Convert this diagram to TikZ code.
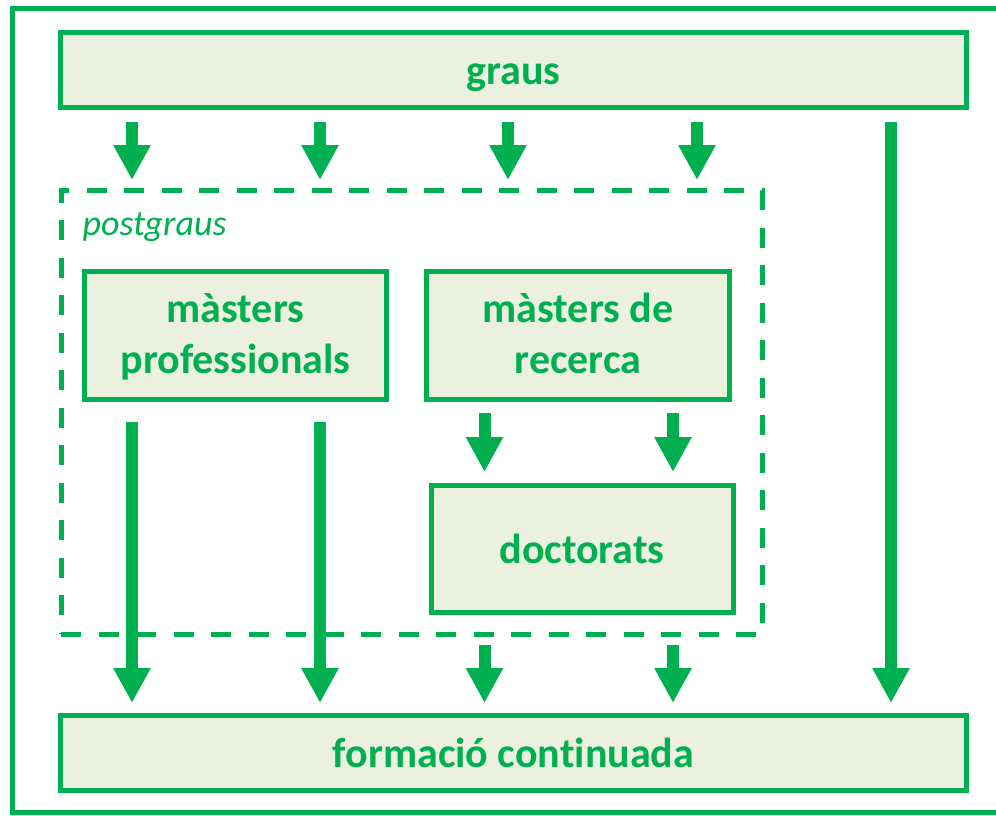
\documentclass[tikz,border=0pt]{standalone}
\usepackage{fontspec}
\setmainfont{Carlito}[Ligatures=CommonOff]
\usetikzlibrary{arrows.meta}
\definecolor{ogreen}{HTML}{00B050}
\definecolor{ofill}{HTML}{EBF1DE}
\tikzset{
  boxnode/.style={draw=ogreen, fill=ofill, line width=5pt, rectangle, inner sep=0pt,
    text=ogreen, font=\fontsize{42}{51}\selectfont\bfseries, align=center},
  oneline/.style={text height=29pt, text depth=0pt},
  twoline/.style={text depth=4pt},
  dashbox/.style={draw=ogreen, line width=5pt, rectangle, inner sep=0pt,
    dash pattern=on 20pt off 17.5pt},
  arr/.style={draw=ogreen, line width=12pt,
    -{Triangle[width=35pt,length=35pt]}, fill=ogreen}
}
\begin{document}
\begin{tikzpicture}[x=1pt,y=-1pt]
\useasboundingbox (0,0) rectangle (996,815);
\clip (0,0) rectangle (996,815);
% outer frame (open to the right)
\draw[ogreen, line width=5pt] (1010,8.5) -- (12.5,8.5) -- (12.5,812.5) -- (1010,812.5);
% nodes
\node[boxnode, oneline, minimum width=906pt, minimum height=75pt] (graus) at (513.5,70) {graus};
\node[dashbox, minimum width=701pt, minimum height=443.5pt] (post) at (411.5,412.25) {};
\node[anchor=base west, text=ogreen, font=\fontsize{36}{43}\selectfont\itshape] (postlbl) at (79,235) {postgraus};
\node[boxnode, twoline, minimum width=302pt, minimum height=128pt] (mprof) at (235.5,335.5) {màsters\\professionals};
\node[boxnode, twoline, minimum width=303pt, minimum height=128pt] (mrec) at (578,335.5) {màsters de\\recerca};
\node[boxnode, oneline, minimum width=302pt, minimum height=127pt] (doct) at (582,548.5) {doctorats};
\node[boxnode, oneline, minimum width=906pt, minimum height=75.5pt] (form) at (513.5,752.75) {formació continuada};
% x positions of the arrows
\coordinate (c1) at (132,0);
\coordinate (c2) at (320,0);
\coordinate (c3) at (508,0);
\coordinate (c4) at (697,0);
\coordinate (c5) at (891,0);
\coordinate (d1) at (484.5,0);
\coordinate (d2) at (673,0);
% graus -> postgraus
\foreach \c in {c1,c2,c3,c4}
  \draw[arr, shorten <=12pt, shorten >=8pt] (graus.south -| \c) -- (post.north -| \c);
% graus -> formacio
\draw[arr, shorten <=12pt, shorten >=9.5pt] (graus.south -| c5) -- (form.north -| c5);
% masters professionals -> formacio
\foreach \c in {c1,c2}
  \draw[arr, shorten <=20pt, shorten >=9.5pt] (mprof.south -| \c) -- (form.north -| \c);
% masters de recerca -> doctorats
\foreach \c in {d1,d2}
  \draw[arr, shorten <=11pt, shorten >=10.5pt] (mrec.south -| \c) -- (doct.north -| \c);
% doctorats -> formacio
\foreach \c in {d1,d2}
  \draw[arr, shorten <=30.5pt, shorten >=9.5pt] (doct.south -| \c) -- (form.north -| \c);
\end{tikzpicture}
\end{document}
